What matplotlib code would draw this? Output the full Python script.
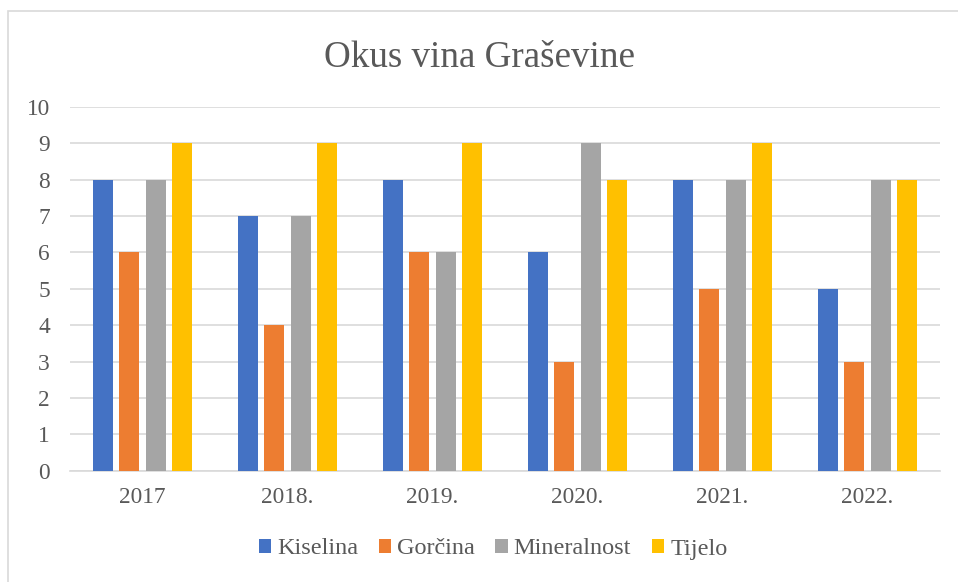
import matplotlib
matplotlib.use("Agg")
import matplotlib.pyplot as plt
import numpy as np
from matplotlib.patches import Rectangle

categories = ["2017", "2018.", "2019.", "2020.", "2021.", "2022."]
kiselina = [8, 7, 8, 6, 8, 5]
gorcina = [6, 4, 6, 3, 5, 3]
mineralnost = [8, 7, 6, 9, 8, 8]
tijelo = [9, 9, 9, 8, 9, 8]
series_names = ["Kiselina", "Gorčina", "Mineralnost", "Tijelo"]
colors = ["#4472C4", "#ED7D31", "#A5A5A5", "#FFC000"]

plt.rcParams['font.family'] = ['Liberation Serif', 'DejaVu Serif']
txt = "#595959"

fig = plt.figure(figsize=(9.58, 5.82), dpi=100)
fig.patches.append(Rectangle((8/958, -10/582), 960/958, (582 - 11 + 10)/582, transform=fig.transFigure,
                             fill=False, edgecolor="#D9D9D9", linewidth=1.2))
ax = fig.add_axes([70/958, (582-470.7)/582, 870/958, (470.7-107)/582])

x = np.arange(len(categories))
w = 20/145
step = 26.2/145
data = [kiselina, gorcina, mineralnost, tijelo]
for i, (vals, name, c) in enumerate(zip(data, series_names, colors)):
    ax.bar(x + (i - 1.5)*step, vals, width=w, color=c, label=name, zorder=3)

ax.set_xlim(-0.5, len(categories) - 0.5)
ax.set_ylim(0, 10)
ax.set_yticks(range(0, 11))
ax.set_xticks(x)
ax.set_xticklabels(categories)
ax.grid(axis='y', color="#D9D9D9", linewidth=1.2, zorder=0)
for s in ["top", "right", "left"]:
    ax.spines[s].set_visible(False)
ax.spines["bottom"].set_color("#D9D9D9")
ax.spines["bottom"].set_linewidth(1.2)
ax.tick_params(axis='both', length=0, labelsize=16.8, colors=txt)
ax.tick_params(axis='y', pad=14.4)
ax.tick_params(axis='x', pad=12)

fig.text(0.5, 1 - 67/582, "Okus vina Graševine", ha='center', va='baseline', fontsize=26.7, color=txt)
fig.legend(loc='center', bbox_to_anchor=(493/958, 1 - 549/582), ncol=4, frameon=False,
           fontsize=17.5, labelcolor=txt, handlelength=0.5, handleheight=0.5,
           handletextpad=0.25, columnspacing=0.85)

fig.savefig("out.png", dpi=100)
